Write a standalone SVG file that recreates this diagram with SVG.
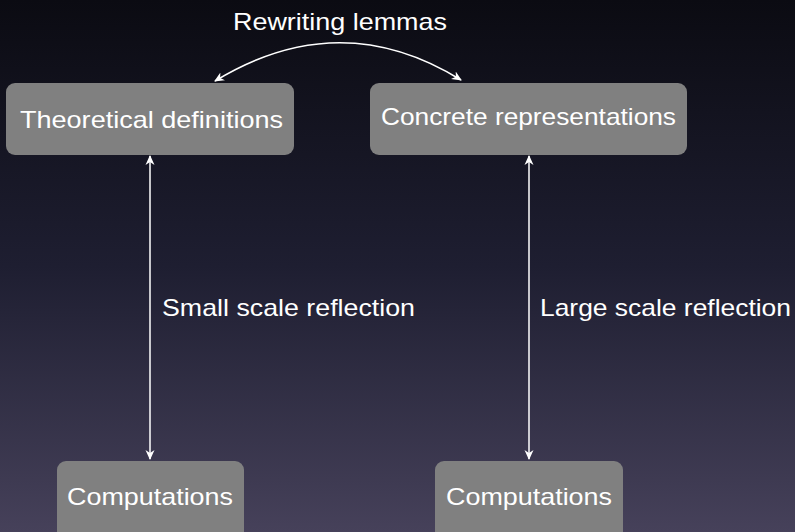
<svg xmlns="http://www.w3.org/2000/svg" width="795" height="532" viewBox="0 0 795 532">
<defs>
<linearGradient id="bg" x1="0" y1="0" x2="0" y2="1">
<stop offset="0" stop-color="#0b0b12"/>
<stop offset="0.5" stop-color="#1e1e31"/>
<stop offset="1" stop-color="#46415a"/>
</linearGradient>
<marker id="ah" viewBox="0 0 10 10" refX="9" refY="5" markerWidth="10" markerHeight="10" markerUnits="userSpaceOnUse" orient="auto-start-reverse">
<path d="M0,0.5 L10,5 L0,9.5 L3,5 Z" fill="#ffffff"/>
</marker>
<style>
.box{fill:#808080}
.t{font-family:"Liberation Sans","DejaVu Sans",sans-serif;fill:#ffffff;font-size:24px}
.c{stroke:#ffffff;stroke-width:1.5;fill:none;marker-start:url(#ah);marker-end:url(#ah)}
</style>
</defs>
<rect width="795" height="532" fill="url(#bg)"/>
<g id="connectors">
<path class="c" d="M215,81 Q340,5 461,80"/>
<line class="c" x1="150" y1="156" x2="150" y2="459"/>
<line class="c" x1="529" y1="156" x2="529" y2="459"/>
<text class="t" x="340" y="30" text-anchor="middle" textLength="214" lengthAdjust="spacingAndGlyphs">Rewriting lemmas</text>
<text class="t" x="162" y="316" textLength="253" lengthAdjust="spacingAndGlyphs">Small scale reflection</text>
<text class="t" x="540" y="316" textLength="251" lengthAdjust="spacingAndGlyphs">Large scale reflection</text>
</g>
<g id="theoretical">
<rect class="box" x="6" y="83" width="288" height="72" rx="9"/>
<text class="t" x="20" y="128" textLength="263" lengthAdjust="spacingAndGlyphs">Theoretical definitions</text>
</g>
<g id="concrete">
<rect class="box" x="370" y="83" width="317" height="72" rx="9"/>
<text class="t" x="381" y="125" textLength="295" lengthAdjust="spacingAndGlyphs">Concrete representations</text>
</g>
<g id="comp1">
<rect class="box" x="57" y="461" width="187" height="80" rx="9"/>
<text class="t" x="67" y="505" textLength="166" lengthAdjust="spacingAndGlyphs">Computations</text>
</g>
<g id="comp2">
<rect class="box" x="435" y="461" width="188" height="80" rx="9"/>
<text class="t" x="446" y="505" textLength="166" lengthAdjust="spacingAndGlyphs">Computations</text>
</g>
</svg>
